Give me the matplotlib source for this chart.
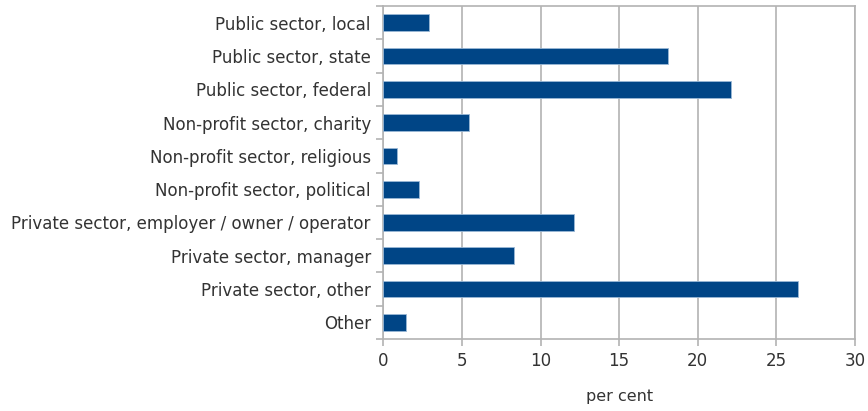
import numpy as np
import matplotlib.pyplot as plt

# ======================
# data
# ======================
categories = [
    "Public sector, local",
    "Public sector, state",
    "Public sector, federal",
    "Non-profit sector, charity",
    "Non-profit sector, religious",
    "Non-profit sector, political",
    "Private sector, employer / owner / operator",
    "Private sector, manager",
    "Private sector, other",
    "Other",
]
values = [2.9, 18.1, 22.1, 5.45, 0.85, 2.3, 12.1, 8.3, 26.4, 1.45]
xticks = [0, 5, 10, 15, 20, 25, 30]

# ======================
# figure
# ======================
fig = plt.figure(figsize=(8.68, 4.11), dpi=100)
ax = fig.add_axes([0.4416, 0.175, 0.5434, 0.8104])

grey = "#b3b3b3"
text_col = "#333333"

pos = np.arange(len(categories))
ax.barh(pos, values, height=0.5, color="#004586", edgecolor="#9ab8d6",
        linewidth=0.6, zorder=3)

ax.set_ylim(len(categories) - 0.5, -0.5)
ax.set_xlim(0, 30)

ax.set_yticks(pos)
ax.set_yticklabels(categories, fontsize=12, color=text_col)
ax.set_yticks(np.arange(-0.5, len(categories), 1), minor=True)
ax.tick_params(axis="y", which="major", length=0, pad=9)
ax.tick_params(axis="y", which="minor", length=5, color=grey, width=1.2)

ax.set_xticks(xticks)
ax.set_xticklabels([str(t) for t in xticks], fontsize=12, color=text_col)
ax.tick_params(axis="x", length=5, color=grey, width=1.2, pad=4)

ax.grid(True, axis="x", color=grey, linewidth=1.2, zorder=0)
for s in ax.spines.values():
    s.set_color(grey)
    s.set_linewidth(1.2)

ax.set_xlabel("per cent", fontsize=11.5, color=text_col, labelpad=14)

plt.savefig("out.png", dpi=100)
